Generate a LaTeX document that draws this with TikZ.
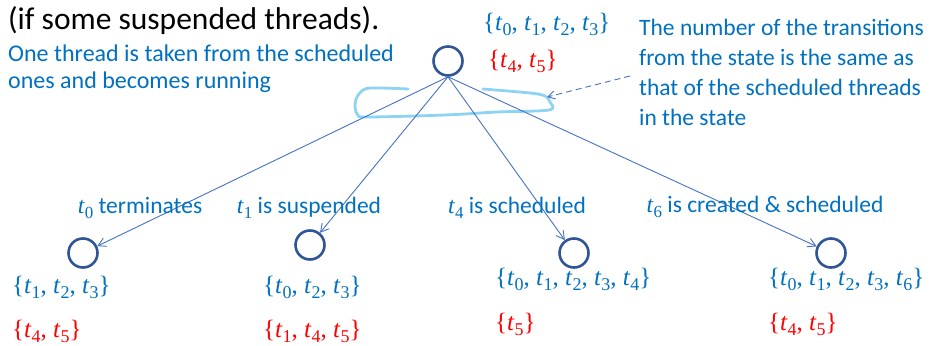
\documentclass[tikz,border=0pt]{standalone}
\usepackage{fontspec}
\setmainfont{Carlito}
\newfontfamily\tmsfont{Liberation Serif}
\usetikzlibrary{arrows.meta}
\definecolor{txtblue}{HTML}{0070C0}
\definecolor{setred}{HTML}{FF0000}
\definecolor{circblue}{HTML}{2F5597}
\definecolor{edgeblue}{HTML}{4472C4}
\definecolor{loopblue}{HTML}{8DD3F2}
\newcommand{\tv}[1]{\textit{t}\raisebox{-0.45ex}{\scalebox{0.72}{#1}}}
\newcommand{\tset}[1]{{\tmsfont\{#1\}}}
\tikzset{
  state/.style={circle,draw=circblue,line width=2.6pt,minimum size=29pt,inner sep=0pt},
  edge/.style={draw=edgeblue,line width=0.9pt,-{Straight Barb[length=8pt,width=9pt]}},
  elabel/.style={text=txtblue,font=\fontsize{23.5}{27}\selectfont,inner sep=0pt},
  bset/.style={text=txtblue,font=\fontsize{25}{28}\selectfont,anchor=west,inner sep=0pt},
  rset/.style={text=setred,font=\fontsize{25}{28}\selectfont,anchor=west,inner sep=0pt},
  note/.style={text=txtblue,align=left,anchor=north west,inner sep=0pt}
}
\begin{document}
\begin{tikzpicture}[x=1pt,y=-1pt]
\useasboundingbox (0,0) rectangle (933,345);
% title
\node[anchor=base west,inner sep=0pt,font=\fontsize{31.5}{38}\selectfont] (title) at (8,30) {(if some suspended threads).};
% left note
\node[note,font=\fontsize{24}{27}\selectfont] (lnote) at (8,45) {One thread is taken from the scheduled\\ones and becomes running};
% right note
\node[note,font=\fontsize{23.5}{30}\selectfont] (rnote) at (639,19) {The number of the transitions\\from the state is the same as\\that of the scheduled threads\\in the state};
% states
\node[state] (s0) at (448,61) {};
\node[state] (s1) at (83,253) {};
\node[state] (s2) at (310,245) {};
\node[state] (s3) at (574,253) {};
\node[state] (s4) at (831,253) {};
% top sets
\node[bset] (top1) at (483,24) {\tset{\tv{0}, \tv{1}, \tv{2}, \tv{3}}};
\node[rset] (top2) at (488,61) {\tset{\tv{4}, \tv{5}}};
% loop
\draw[loopblue,line width=2.8pt,line cap=round,line join=round] plot[smooth,tension=0.55] coordinates {(408,89) (380,88) (365,89) (357,97) (355,107) (358,115) (368,117) (445,115) (497,112) (549,110) (550,102) (545,96) (530,93) (483,89)};
% dashed arrow
\coordinate (dstart) at (630,76);
\coordinate (dend) at (547,97);
\draw[edgeblue,line width=0.9pt,dash pattern=on 6pt off 4pt,-{Straight Barb[length=7pt,width=8pt]}] (dstart) -- (dend);
% edges
\draw[edge] (s0.south) -- (s1);
\draw[edge] (s0.south) -- (s2);
\draw[edge] (s0.south) -- (s3);
\draw[edge] (s0.south) -- (s4);
% edge labels
\node[elabel] (l1) at (140,208) {{\tmsfont\tv{0}} terminates};
\node[elabel] (l2) at (309,208) {{\tmsfont\tv{1}} is suspended};
\node[elabel] (l3) at (517,208) {{\tmsfont\tv{4}} is scheduled};
\node[elabel] (l4) at (765,207) {{\tmsfont\tv{6}} is created \& scheduled};
% bottom sets
\node[bset] (b1) at (12,287) {\tset{\tv{1}, \tv{2}, \tv{3}}};
\node[rset] (r1) at (12,331) {\tset{\tv{4}, \tv{5}}};
\node[bset] (b2) at (263,287) {\tset{\tv{0}, \tv{2}, \tv{3}}};
\node[rset] (r2) at (263,331) {\tset{\tv{1}, \tv{4}, \tv{5}}};
\node[bset] (b3) at (495,279) {\tset{\tv{0}, \tv{1}, \tv{2}, \tv{3}, \tv{4}}};
\node[rset] (r3) at (495,324) {\tset{\tv{5}}};
\node[bset] (b4) at (768,279) {\tset{\tv{0}, \tv{1}, \tv{2}, \tv{3}, \tv{6}}};
\node[rset] (r4) at (768,324) {\tset{\tv{4}, \tv{5}}};
\end{tikzpicture}
\end{document}
